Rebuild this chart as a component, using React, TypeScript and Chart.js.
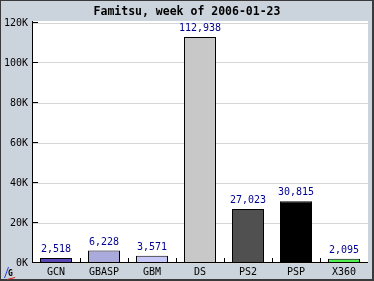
import React, { useEffect, useRef } from "react";
import { Chart, registerables } from "chart.js";

Chart.register(...registerables);

const TITLE = "Famitsu, week of 2006-01-23";
const categories = ["GCN", "GBASP", "GBM", "DS", "PS2", "PSP", "X360"];
const units = [2518, 6228, 3571, 112938, 27023, 30815, 2095];
const barColors = ["#5a46b4", "#aaaadc", "#c8c8f8", "#c8c8c8", "#505050", "#000000", "#50f050"];
const yStep = 20000;
const yMax = 120000;

const MONO = '"DejaVu Sans Mono", "Liberation Mono", monospace';

const framePlugin = {
  id: "frame",
  beforeDraw(chart: any) {
    const { ctx, width, height, chartArea } = chart;
    ctx.save();
    ctx.fillStyle = "#cbd3dc";
    ctx.fillRect(0, 0, width, height);
    ctx.fillStyle = "#ffffff";
    ctx.fillRect(chartArea.left, chartArea.top - 2, chartArea.right - chartArea.left, chartArea.bottom - chartArea.top + 2);
    // outer border
    ctx.fillStyle = "#3a3a3a";
    ctx.fillRect(0, 0, width, 1);
    ctx.fillRect(0, 0, 1, height);
    ctx.fillRect(width - 2, 0, 2, height);
    ctx.fillRect(0, height - 2, width, 2);
    ctx.restore();
  },
  afterDatasetsDraw(chart: any) {
    const { ctx, chartArea, scales } = chart;
    const x = scales.x;
    const y = scales.y;
    ctx.save();
    ctx.strokeStyle = "#000000";
    ctx.lineWidth = 1;
    // y ticks inward
    y.ticks.forEach((t: any) => {
      const py = Math.round(y.getPixelForValue(t.value)) - 0.5;
      ctx.beginPath();
      ctx.moveTo(chartArea.left, py);
      ctx.lineTo(chartArea.left + 6, py);
      ctx.stroke();
    });
    // x ticks inward at category boundaries
    const n = categories.length;
    for (let i = 1; i < n; i++) {
      const px = Math.round((x.getPixelForValue(i - 1) + x.getPixelForValue(i)) / 2) + 0.5;
      ctx.beginPath();
      ctx.moveTo(px, chartArea.bottom);
      ctx.lineTo(px, chartArea.bottom - 5);
      ctx.stroke();
    }
    // axes
    ctx.beginPath();
    ctx.moveTo(chartArea.left + 0.5, chartArea.top - 2);
    ctx.lineTo(chartArea.left + 0.5, chartArea.bottom);
    ctx.moveTo(chartArea.left, chartArea.bottom - 0.5);
    ctx.lineTo(chartArea.right, chartArea.bottom - 0.5);
    ctx.stroke();

    // value labels
    const meta = chart.getDatasetMeta(0);
    ctx.fillStyle = "#000090";
    ctx.font = `10px ${MONO}`;
    ctx.textAlign = "center";
    ctx.textBaseline = "alphabetic";
    meta.data.forEach((el: any, i: number) => {
      ctx.fillText(units[i].toLocaleString("en-US"), el.x, el.y - 6);
    });
    ctx.restore();
  },
  afterDraw(chart: any) {
    const { ctx, width } = chart;
    ctx.save();
    ctx.fillStyle = "#000000";
    ctx.font = `bold 11.5px ${MONO}`;
    ctx.textAlign = "center";
    ctx.textBaseline = "alphabetic";
    ctx.fillText(TITLE, width / 2, 15);
    // small logo
    ctx.strokeStyle = "#2040e0";
    ctx.lineWidth = 1;
    ctx.beginPath();
    ctx.moveTo(4.5, 278);
    ctx.lineTo(8.5, 267);
    ctx.stroke();
    ctx.strokeStyle = "#e02020";
    ctx.beginPath();
    ctx.moveTo(7, 279.5);
    ctx.lineTo(15, 277.5);
    ctx.stroke();
    ctx.fillStyle = "#000000";
    ctx.font = `bold 8px ${MONO}`;
    ctx.textAlign = "left";
    ctx.fillText("G", 8, 276);
    ctx.restore();
  },
};

export default function App() {
  const ref = useRef<HTMLCanvasElement | null>(null);
  useEffect(() => {
    document.body.style.margin = "0";
    const canvas = ref.current;
    if (!canvas) return;
    const chart = new Chart(canvas, {
      type: "bar",
      data: {
        labels: categories,
        datasets: [
          {
            data: units,
            backgroundColor: barColors,
            borderColor: "#000000",
            borderWidth: 1,
            barPercentage: 0.667,
            categoryPercentage: 1,
          },
        ],
      },
      options: {
        responsive: false,
        animation: false,
        devicePixelRatio: 1,
        layout: { padding: { left: 0, right: 6, top: 23, bottom: 0 } },
        plugins: {
          legend: { display: false },
          tooltip: { enabled: false },
          title: { display: false },
        },
        scales: {
          x: {
            offset: true,
            grid: { display: false, drawTicks: false },
            border: { display: false },
            ticks: {
              color: "#000000",
              font: { family: MONO, size: 10 },
              padding: 3,
              maxRotation: 0,
              autoSkip: false,
            },
            afterFit: (s: any) => {
              s.height = 18;
            },
          },
          y: {
            min: 0,
            max: yMax,
            grid: { color: "#d6d6d6", drawTicks: false, lineWidth: 1 },
            border: { display: false },
            ticks: {
              stepSize: yStep,
              color: "#000000",
              font: { family: MONO, size: 10 },
              padding: 4,
              callback: (v: any) => `${Number(v) / 1000}K`,
            },
            afterFit: (s: any) => {
              s.width = 32;
            },
          },
        },
      },
      plugins: [framePlugin],
    });
    return () => chart.destroy();
  }, []);
  return (
    <div style={{ width: 374, height: 281 }}>
      <canvas ref={ref} width={374} height={281} style={{ display: "block", width: 374, height: 281 }} />
    </div>
  );
}
